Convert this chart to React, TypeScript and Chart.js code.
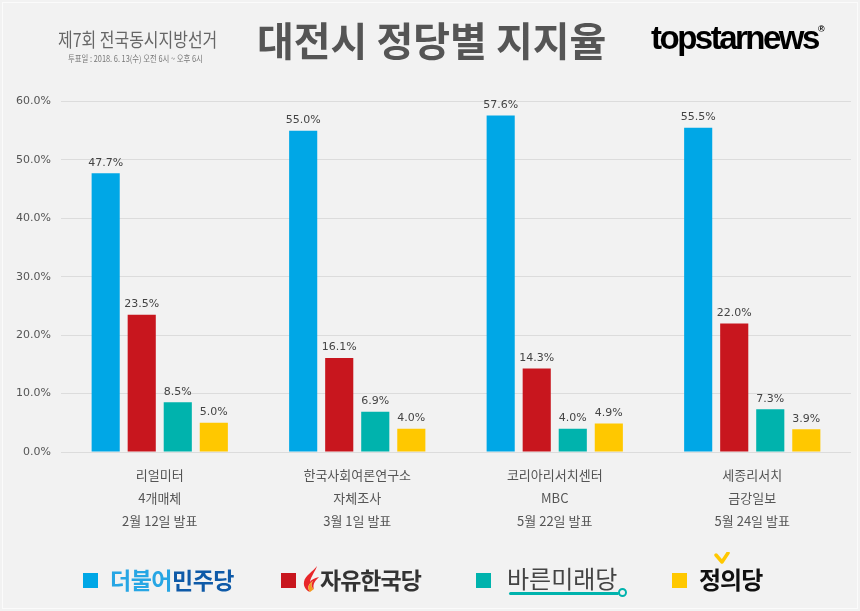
import React, { useEffect, useRef } from 'react';
import { Chart, registerables } from 'chart.js';

Chart.register(...registerables);

// ---- data ----
const categories: string[][] = [
  ['리얼미터', '4개매체', '2월 12일 발표'],
  ['한국사회여론연구소', '자체조사', '3월 1일 발표'],
  ['코리아리서치센터', 'MBC', '5월 22일 발표'],
  ['세종리서치', '금강일보', '5월 24일 발표'],
];
const partyNames = ['더불어민주당', '자유한국당', '바른미래당', '정의당'];
const minjooValues = [47.7, 55.0, 57.6, 55.5];
const jayuValues = [23.5, 16.1, 14.3, 22.0];
const bareunValues = [8.5, 6.9, 4.0, 7.3];
const jeonguiValues = [5.0, 4.0, 4.9, 3.9];
const yMin = 0;
const yMax = 60;
const yStep = 10;

const partyColors = ['#00a7e6', '#c8161e', '#00b3ad', '#ffc800'];

const FONT_KR = '"Noto Sans CJK KR", "Noto Sans", sans-serif';

const valueLabels = {
  id: 'valueLabels',
  afterDatasetsDraw(chart: any) {
    const ctx = chart.ctx;
    ctx.save();
    ctx.font = '11px "DejaVu Sans"';
    ctx.fillStyle = '#444';
    ctx.textAlign = 'center';
    ctx.textBaseline = 'bottom';
    chart.data.datasets.forEach((ds: any, i: number) => {
      const meta = chart.getDatasetMeta(i);
      meta.data.forEach((bar: any, j: number) => {
        ctx.fillText(Number(ds.data[j]).toFixed(1) + '%', bar.x, bar.y - 5);
      });
    });
    ctx.restore();
  },
};

function ChartCanvas() {
  const ref = useRef<HTMLCanvasElement | null>(null);
  useEffect(() => {
    if (!ref.current) return;
    const seriesValues = [minjooValues, jayuValues, bareunValues, jeonguiValues];
    const chart = new Chart(ref.current, {
      type: 'bar',
      data: {
        labels: categories,
        datasets: seriesValues.map((vals, i) => ({
          label: partyNames[i],
          data: vals,
          backgroundColor: partyColors[i],
          borderWidth: 0,
          categoryPercentage: 0.73,
          barPercentage: 0.78,
        })),
      },
      options: {
        responsive: false,
        animation: false,
        devicePixelRatio: 1,
        layout: { padding: { top: 101.5, left: 0, right: 9, bottom: 60 } },
        plugins: {
          legend: { display: false },
          tooltip: { enabled: false },
          title: { display: false },
        },
        scales: {
          x: {
            grid: { display: false },
            border: { display: false },
            ticks: {
              autoSkip: false,
              maxRotation: 0,
              color: '#555',
              padding: 4,
              font: { family: FONT_KR, size: 13, lineHeight: '23px' } as any,
            },
            afterFit: (s: any) => {
              s.height = 99;
            },
          },
          y: {
            min: yMin,
            max: yMax,
            grid: { color: '#dcdcdc', lineWidth: 1, drawTicks: false },
            border: { display: false },
            ticks: {
              stepSize: yStep,
              color: '#555',
              padding: 10,
              font: { family: '"DejaVu Sans"', size: 11 },
              callback: (v: any) => Number(v).toFixed(1) + '%',
            },
            afterFit: (s: any) => {
              s.width = 61;
            },
          },
        },
      },
      plugins: [valueLabels],
    });
    return () => chart.destroy();
  }, []);
  return <canvas ref={ref} width={860} height={611} style={{ position: 'absolute', left: 0, top: 0 }} />;
}

const abs = (s: React.CSSProperties): React.CSSProperties => ({ position: 'absolute', whiteSpace: 'nowrap', ...s });

function Square({ left, color }: { left: number; color: string }) {
  return <div style={abs({ left, top: 573, width: 15, height: 15, background: color })} />;
}

export default function App() {
  return (
    <div
      style={{
        position: 'absolute',
        left: 0,
        top: 0,
        width: 860,
        height: 611,
        overflow: 'hidden',
        background: '#f2f2f2',
        fontFamily: FONT_KR,
      }}
    >
      <div style={abs({ left: 2, top: 2, width: 854, height: 605, border: '1px solid #fbfbfb' })} />
      <ChartCanvas />

      {/* header */}
      <div
        style={abs({
          left: 58,
          top: 26,
          fontSize: 19,
          lineHeight: '26px',
          color: '#666',
          transform: 'scaleX(0.84)',
          transformOrigin: 'left top',
        })}
      >
        제7회 전국동시지방선거
      </div>
      <div
        style={abs({
          left: 68,
          top: 53,
          fontSize: 9,
          lineHeight: '12px',
          color: '#777',
          transform: 'scaleX(0.82)',
          transformOrigin: 'left top',
        })}
      >
        투표일 : 2018. 6. 13(수) 오전 6시 ~ 오후 6시
      </div>
      <div
        style={abs({
          left: 257,
          top: 14,
          fontSize: 40,
          lineHeight: '50px',
          fontWeight: 700,
          color: '#555',
        })}
      >
        대전시 정당별 지지율
      </div>
      <div
        style={abs({
          left: 651,
          top: 18,
          fontSize: 33,
          lineHeight: '40px',
          fontWeight: 700,
          color: '#000',
          fontFamily: '"Liberation Sans", Arial, sans-serif',
          letterSpacing: '-2.5px',
        })}
      >
        topstarnews<span style={{ fontSize: 9, verticalAlign: 'top', lineHeight: '22px', letterSpacing: 0 }}>®</span>
      </div>

      {/* legend */}
      <Square left={83} color={partyColors[0]} />
      <div style={abs({ left: 110, top: 564, fontSize: 23, lineHeight: '30px', fontWeight: 700, letterSpacing: '-0.5px' })}>
        <span style={{ color: '#27a6e4' }}>더불어</span>
        <span style={{ color: '#0e5aa8' }}>민주당</span>
      </div>

      <Square left={281} color={partyColors[1]} />
      <svg style={abs({ left: 301, top: 566, width: 20, height: 26 })} viewBox="0 0 20 26">
        <path d="M16 0 C12 6 4 9 3 16 C2 21 6 25 9 26 C6 22 7 18 12 15 C9 19 11 22 13 23 C11 18 15 14 18 11 C13 12 10 14 9 16 C10 10 14 6 16 0 Z" fill="#e8262a" />
        <path d="M9 26 C6 22 7 18 12 15 C9 19 11 22 13 23 Z" fill="#f39a1e" />
      </svg>
      <div style={abs({ left: 320, top: 564, fontSize: 23, lineHeight: '30px', fontWeight: 700, color: '#333', letterSpacing: '-1px' })}>
        {partyNames[1]}
      </div>

      <Square left={476} color={partyColors[2]} />
      <div style={abs({ left: 507, top: 563, fontSize: 24, lineHeight: '30px', fontWeight: 400, color: '#444' })}>
        {partyNames[2]}
      </div>
      <div style={abs({ left: 509, top: 592, width: 110, height: 3, background: '#00b3ad', borderRadius: 2 })} />
      <div
        style={abs({
          left: 618,
          top: 588,
          width: 9,
          height: 9,
          border: '2.5px solid #00b3ad',
          borderRadius: '50%',
          boxSizing: 'border-box',
        })}
      />

      <Square left={672} color={partyColors[3]} />
      <svg style={abs({ left: 714, top: 552, width: 16, height: 13 })} viewBox="0 0 16 13">
        <polyline points="2,3 8,10 14,1" fill="none" stroke="#ffc800" strokeWidth="3.5" strokeLinecap="round" strokeLinejoin="round" />
      </svg>
      <div style={abs({ left: 699, top: 564, fontSize: 24, lineHeight: '30px', fontWeight: 700, color: '#111', letterSpacing: '-1px' })}>
        {partyNames[3]}
      </div>
    </div>
  );
}
